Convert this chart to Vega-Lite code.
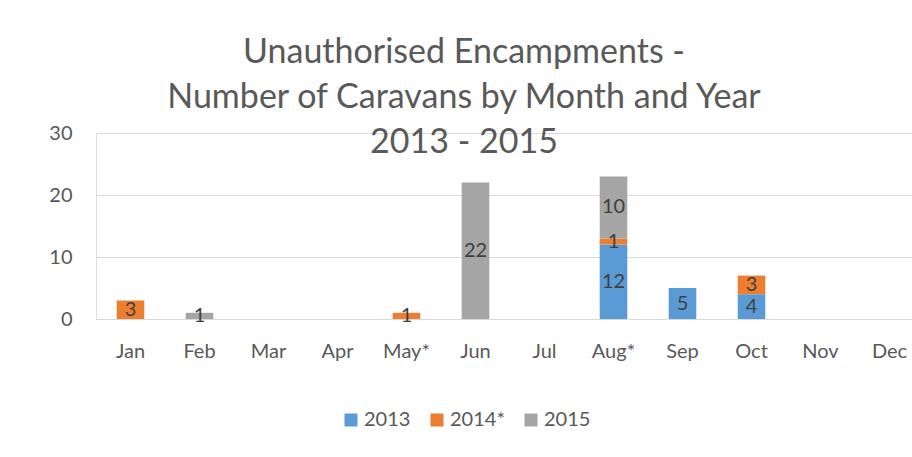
{
  "$schema": "https://vega.github.io/schema/vega-lite/v6.json",
  "autosize": "none",
  "width": 828,
  "height": 186,
  "padding": {"left": 96, "top": 133, "right": 0, "bottom": 138},
  "background": "white",
  "title": {
    "text": ["Unauthorised Encampments -", "Number of  Caravans by Month and Year", "2013 - 2015"],
    "font": "Lato",
    "fontSize": 34,
    "fontWeight": "normal",
    "color": "#595959",
    "lineHeight": 45,
    "anchor": "middle",
    "dx": -46,
    "offset": -37
  },
  "data": {
    "values": [
      {"month": "Jan", "year": "2014*", "ord": 2, "v": 3},
      {"month": "Feb", "year": "2015", "ord": 3, "v": 1},
      {"month": "May*", "year": "2014*", "ord": 2, "v": 1},
      {"month": "Jun", "year": "2015", "ord": 3, "v": 22},
      {"month": "Aug*", "year": "2013", "ord": 1, "v": 12},
      {"month": "Aug*", "year": "2014*", "ord": 2, "v": 1},
      {"month": "Aug*", "year": "2015", "ord": 3, "v": 10},
      {"month": "Sep", "year": "2013", "ord": 1, "v": 5},
      {"month": "Oct", "year": "2013", "ord": 1, "v": 4},
      {"month": "Oct", "year": "2014*", "ord": 2, "v": 3}
    ]
  },
  "encoding": {
    "x": {
      "field": "month",
      "type": "nominal",
      "scale": {
        "domain": ["Jan", "Feb", "Mar", "Apr", "May*", "Jun", "Jul", "Aug*", "Sep", "Oct", "Nov", "Dec"],
        "paddingInner": 0.6,
        "paddingOuter": 0.3
      },
      "axis": {
        "title": null,
        "labelAngle": 0,
        "labelFont": "Lato",
        "labelFontSize": 20,
        "labelColor": "#595959",
        "labelPadding": 22,
        "ticks": false,
        "domainColor": "#D9D9D9",
        "domainWidth": 1
      }
    },
    "y": {
      "field": "v",
      "type": "quantitative",
      "stack": "zero",
      "scale": {"domain": [0, 30], "nice": false},
      "axis": {
        "title": null,
        "values": [0, 10, 20, 30],
        "labelFont": "Lato",
        "labelFontSize": 20,
        "labelColor": "#595959",
        "labelPadding": 24,
        "ticks": false,
        "domain": false,
        "gridColor": "#D9D9D9",
        "gridWidth": 1
      }
    },
    "order": {"field": "ord", "type": "quantitative", "sort": "ascending"}
  },
  "layer": [
    {
      "mark": {"type": "bar"},
      "encoding": {
        "color": {
          "field": "year",
          "type": "nominal",
          "scale": {"domain": ["2013", "2014*", "2015"], "range": ["#5B9BD5", "#ED7D31", "#A5A5A5"]},
          "legend": {
            "title": null,
            "orient": "none",
            "legendX": 245,
            "legendY": 277,
            "direction": "horizontal",
            "symbolType": "square",
            "symbolSize": 169,
            "symbolStrokeWidth": 0,
            "labelFont": "Lato",
            "labelFontSize": 20,
            "labelColor": "#595959",
            "labelOffset": 3,
            "columnPadding": 16
          }
        }
      }
    },
    {
      "mark": {"type": "text", "font": "Lato", "fontSize": 20, "color": "#404040", "baseline": "middle"},
      "encoding": {
        "y": {"field": "v", "type": "quantitative", "stack": "zero", "bandPosition": 0.5},
        "text": {"field": "v", "type": "quantitative"}
      }
    }
  ]
}
